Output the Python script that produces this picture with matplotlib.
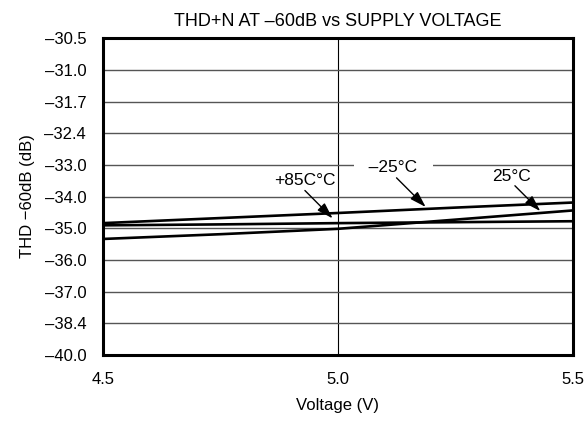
import numpy as np
import matplotlib
matplotlib.use('Agg')
import matplotlib.pyplot as plt

plt.rcParams['font.family'] = ['Liberation Sans', 'DejaVu Sans']

# supply voltage (V)
volt = [4.5, 4.75, 5.0, 5.25, 5.5]
# THD+N at -60dB (dB)
thd_m25 = [-34.84, -34.68, -34.52, -34.35, -34.19]
thd_p85 = [-34.91, -34.88, -34.84, -34.81, -34.78]
thd_p25 = [-35.34, -35.19, -35.02, -34.73, -34.44]

# y axis tick values (evenly spaced on the chart)
yticks = [-40.0, -38.4, -37.0, -36.0, -35.0, -34.0, -33.0, -32.4, -31.7, -31.0, -30.5]
ylabels = ['\u201340.0', '\u201338.4', '\u201337.0', '\u201336.0', '\u201335.0', '\u201334.0',
           '\u201333.0', '\u201332.4', '\u201331.7', '\u201331.0', '\u201330.5']
xticks = [4.5, 5.0, 5.5]
pos = np.arange(len(yticks))

def fwd(v):
    return np.interp(v, yticks, pos)

def inv(p):
    return np.interp(p, pos, yticks)

fig = plt.figure(figsize=(5.88, 4.24), dpi=100)
ax = fig.add_axes([0.175, 0.163, 0.799, 0.747])
ax.set_yscale('function', functions=(fwd, inv))
ax.set_ylim(-40.0, -30.5)
ax.set_xlim(4.5, 5.5)

ax.set_yticks(yticks)
ax.set_yticklabels(ylabels)
ax.set_xticks(xticks)
ax.set_xticklabels(['4.5', '5.0', '5.5'])
ax.yaxis.set_minor_locator(matplotlib.ticker.NullLocator())
ax.tick_params(length=0, labelsize=12)
ax.tick_params(axis='y', pad=12)
ax.tick_params(axis='x', pad=12)

ax.grid(axis='y', color='#555555', lw=1.0)
ax.grid(axis='x', color='black', lw=0.8)
ax.set_axisbelow(True)
for s in ax.spines.values():
    s.set_linewidth(2.2)

ax.plot(volt, thd_m25, color='black', lw=1.9)
ax.plot(volt, thd_p85, color='black', lw=1.9)
ax.plot(volt, thd_p25, color='black', lw=1.9)

arw = dict(arrowstyle='-|>,head_length=0.7,head_width=0.22', color='black', lw=1.0,
           mutation_scale=14, shrinkA=0, shrinkB=0)
ax.text(4.93, -33.5, '+85C\u00b0C', ha='center', va='center', fontsize=12.5)
ax.annotate('', xy=(4.989, -34.69), xytext=(4.93, -33.81), arrowprops=arw)
ax.text(5.118, -33.08, '   \u201325\u00b0C   ', ha='center', va='center', fontsize=12.5,
        bbox=dict(facecolor='white', edgecolor='none', pad=0.5))
ax.annotate('', xy=(5.187, -34.33), xytext=(5.125, -33.41), arrowprops=arw)
ax.text(5.37, -33.375, '25\u00b0C', ha='center', va='center', fontsize=12.5)
ax.annotate('', xy=(5.431, -34.46), xytext=(5.377, -33.66), arrowprops=arw)

ax.set_title('THD+N AT \u201360dB vs SUPPLY VOLTAGE', fontsize=13, pad=9)
ax.set_xlabel('Voltage (V)', fontsize=12, labelpad=8)
ax.set_ylabel('THD \u221260dB (dB)', fontsize=12, labelpad=7)

fig.savefig('out.png', dpi=100)
